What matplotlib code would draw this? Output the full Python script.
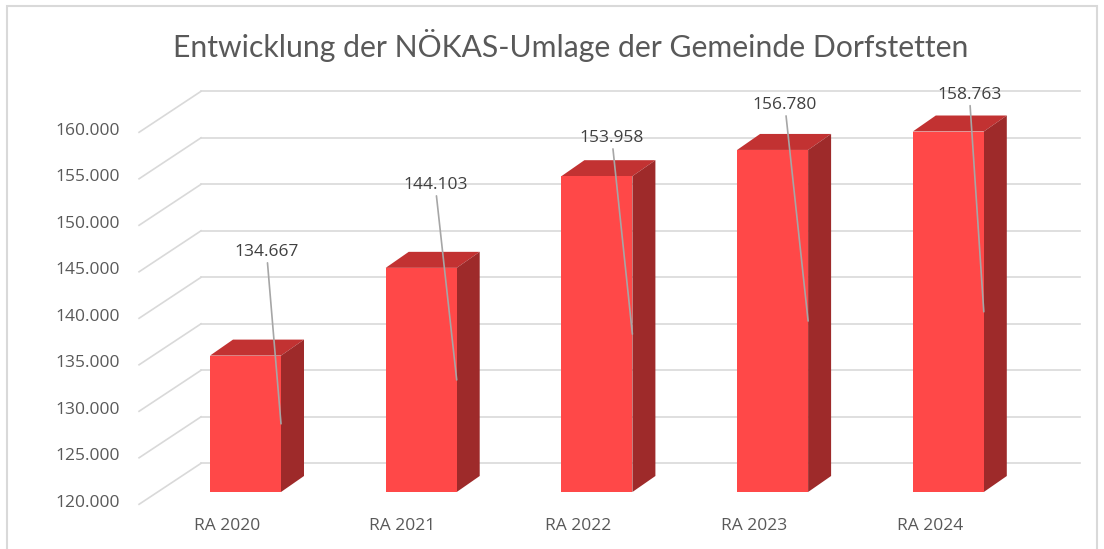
import matplotlib
matplotlib.use("Agg")
import matplotlib.pyplot as plt
from matplotlib.patches import Polygon, Rectangle

# data
categories = ["RA 2020", "RA 2021", "RA 2022", "RA 2023", "RA 2024"]
values = [134667, 144103, 153958, 156780, 158763]
value_labels = ["134.667", "144.103", "153.958", "156.780", "158.763"]
yticks = [120000, 125000, 130000, 135000, 140000, 145000, 150000, 155000, 160000]
ytick_labels = ["120.000", "125.000", "130.000", "135.000", "140.000",
                "145.000", "150.000", "155.000", "160.000"]
# where the data labels were dragged to (x offset in categories, y in value units)
label_dx = [0.12, 0.08, 0.085, 0.07, 0.12]
label_y = [145800, 153000, 158050, 161600, 162700]

title = "Entwicklung der NÖKAS-Umlage der Gemeinde Dorfstetten"

# layout (pixel scale of the bar front plane)
W, H = 1104, 549
x0_px, cat_px = 245.5, 175.7       # pixel x of first category, px per category
base_px, px_per_1k = 492, 9.3      # pixel y of 120.000, px per 1000
ymin = yticks[0]

def dx(px):
    return px / cat_px

def dy(px):
    return px / px_per_1k * 1000

fig = plt.figure(figsize=(W / 100, H / 100), dpi=100)
ax = fig.add_axes([0, 0, 1, 1])
ax.set_xlim(-x0_px / cat_px, (W - x0_px) / cat_px)
ax.set_ylim(ymin - dy(H - base_px), ymin + dy(base_px))
ax.axis("off")

grid_c = "#d9d9d9"
text_c = "#595959"
fs = 12.5

# depth offsets
back_dx, back_dy = dx(43.4), dy(28.7)       # bar front plane -> back wall
front_dx, front_dy = dx(-18.6), dy(-12.3)   # bar front plane -> floor front edge
bar_dx, bar_dy = dx(23), dy(16)
bar_w = dx(71)
left, right = -0.5, len(categories) - 0.5

for t, lab in zip(yticks, ytick_labels):
    ax.plot([left + front_dx, left + back_dx], [t + front_dy, t + back_dy],
            color=grid_c, lw=1.2, zorder=1)
    ax.plot([left + back_dx, right + back_dx], [t + back_dy, t + back_dy],
            color=grid_c, lw=1.2, zorder=1)
    ax.text(left + front_dx - dx(19), t + front_dy + dy(1.5), lab,
            ha="right", va="center", fontsize=fs, color=text_c, family="Open Sans")

for i, (cat, v) in enumerate(zip(categories, values)):
    l, r = i - bar_w / 2, i + bar_w / 2
    top = Polygon([(l, v), (r, v), (r + bar_dx, v + bar_dy), (l + bar_dx, v + bar_dy)],
                  closed=True, facecolor="#c23232", edgecolor="none", zorder=3)
    side = Polygon([(r, ymin), (r, v), (r + bar_dx, v + bar_dy), (r + bar_dx, ymin + bar_dy)],
                   closed=True, facecolor="#9e2a2a", edgecolor="none", zorder=3)
    ax.add_patch(top)
    ax.add_patch(side)
    ax.add_patch(Rectangle((l, ymin), bar_w, v - ymin, facecolor="#ff4848",
                           edgecolor="none", zorder=4))
    ax.text(i + front_dx, ymin + front_dy - dy(22), cat, ha="center", va="center",
            fontsize=fs, color=text_c, family="Open Sans")
    ax.annotate(value_labels[i], xy=(r, (ymin + v) / 2), xytext=(i + label_dx[i], label_y[i]),
                ha="center", va="center", fontsize=fs, color="#404040", family="Open Sans",
                arrowprops=dict(arrowstyle="-", color="#a6a6a6", lw=1.2, shrinkA=0, shrinkB=0),
                zorder=6)

fig.text(571 / W, 1 - 45 / H, title, ha="center", va="center", fontsize=21.7,
         color=text_c, family="Lato")

# chart frame
fig.patches.append(Rectangle((7 / W, -0.05), 1090 / W, 1 - 6 / H + 0.05, transform=fig.transFigure,
                             fill=False, edgecolor="#d9d9d9", lw=1.5))

fig.savefig("out.png", dpi=100)
